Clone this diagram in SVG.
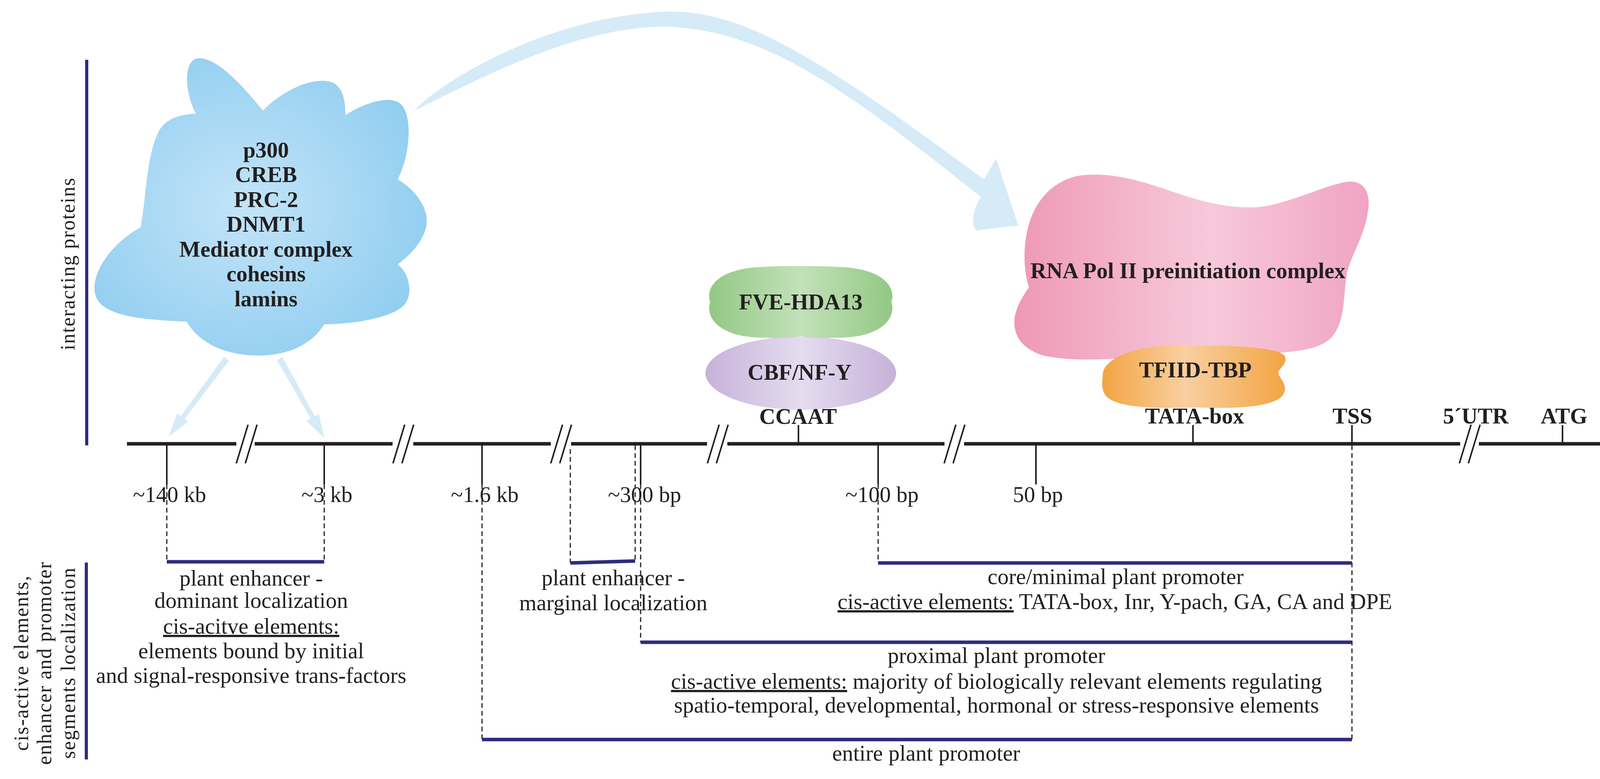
<svg xmlns="http://www.w3.org/2000/svg" width="4193" height="1994" viewBox="0 0 4193 1994">
<style>
text{font-family:'Liberation Serif','Times New Roman',serif;fill:#231f20}
.b{font-weight:bold;font-size:57px;text-anchor:middle}
.r{font-size:57px;text-anchor:middle}
.rot{font-size:52px;letter-spacing:2px;text-anchor:middle}
.main{stroke:#231f20;stroke-width:9;fill:none}
.tick{stroke:#231f20;stroke-width:4;fill:none}
.sl{stroke:#231f20;stroke-width:4;fill:none}
.dash{stroke:#231f20;stroke-width:3;stroke-dasharray:12 8;fill:none}
.seg{stroke:#2e2c7e;stroke-width:9;fill:none}
.vbar{stroke:#2e2c7e;stroke-width:8;fill:none}
.arr{fill:#d5ebf7}
</style>
<defs>
<radialGradient id="gCloud" cx="0.45" cy="0.5" r="0.6">
<stop offset="0" stop-color="#c3e4f8"/><stop offset="1" stop-color="#90cdf0"/>
</radialGradient>
<linearGradient id="gPink" x1="0" y1="0" x2="1" y2="0">
<stop offset="0" stop-color="#ef98b6"/><stop offset="0.55" stop-color="#f7c9da"/><stop offset="1" stop-color="#f0a4c2"/>
</linearGradient>
<linearGradient id="gGreen" x1="0" y1="0" x2="1" y2="0">
<stop offset="0" stop-color="#93c884"/><stop offset="0.5" stop-color="#c3e1b9"/><stop offset="1" stop-color="#93c884"/>
</linearGradient>
<linearGradient id="gViolet" x1="0" y1="0" x2="1" y2="0">
<stop offset="0" stop-color="#c6b2d9"/><stop offset="0.5" stop-color="#e5dcef"/><stop offset="1" stop-color="#c6b2d9"/>
</linearGradient>
<linearGradient id="gOrange" x1="0" y1="0" x2="1" y2="0">
<stop offset="0" stop-color="#f3a443"/><stop offset="0.45" stop-color="#f9d0a0"/><stop offset="1" stop-color="#f3a443"/>
</linearGradient>
</defs>

<g id="axis-labels">
<line class="vbar" x1="222" y1="153" x2="222" y2="1140"/>
<text class="rot" transform="translate(191,675) rotate(-90)">interacting proteins</text>
<line class="vbar" x1="221" y1="1440" x2="221" y2="1944"/>
<text class="rot" transform="translate(72,1697) rotate(-90)">cis-active elements,</text>
<text class="rot" transform="translate(131,1697) rotate(-90)">enhancer and promoter</text>
<text class="rot" transform="translate(192,1697) rotate(-90)">segments localization</text>
</g>

<g id="connectors">
<path class="arr" d="M1062,282 C1110,225 1380,45 1700,30 C1900,22 2100,150 2519,459 L2550,406 L2607,578 C2560,580 2520,588 2500,590 C2485,580 2490,530 2512,505 C2150,215 1950,75 1700,68 C1480,70 1250,190 1062,282 Z"/>
<polygon class="arr" points="586.4,922.8 472.6,1072.5 482.2,1079.6 432,1117 453.4,1058.2 463,1065.3 573.6,913.2"/>
<polygon class="arr" points="723,914.1 805.8,1065.8 816.3,1059.9 830,1121 784.9,1077.5 795.4,1071.6 709,921.9"/>
</g>

<g id="cloud">
<path fill="url(#gCloud)" d="M501,291 C470,230 470,150 509,149 C560,148 630,230 673,283 C720,235 790,200 840,208 C880,215 884,260 884,295 C930,265 990,245 1020,262 C1060,285 1050,400 1018,459 C1070,490 1100,540 1091,580 C1082,625 1040,660 1018,677 C1050,700 1060,760 1030,785 C995,815 900,830 830,830 C800,880 740,910 660,910 C580,910 510,880 478,823 C400,820 290,815 255,775 C215,730 270,630 360,582 C375,500 375,390 410,330 C430,300 470,292 501,291 Z"/>
<text class="b" x="681" y="403">p300</text>
<text class="b" x="681" y="466">CREB</text>
<text class="b" x="681" y="530">PRC-2</text>
<text class="b" x="681" y="593">DNMT1</text>
<text class="b" x="681" y="657">Mediator complex</text>
<text class="b" x="681" y="720">cohesins</text>
<text class="b" x="681" y="784">lamins</text>
</g>

<g id="cbf">
<ellipse cx="2050" cy="955" rx="244" ry="94" fill="url(#gViolet)"/>
<text class="b" x="2047" y="972">CBF/NF-Y</text>
</g>
<g id="fve">
<path fill="url(#gGreen)" d="M1818,773 C1805,735 1840,690 1940,684 C2000,680 2100,680 2160,684 C2260,690 2295,735 2282,773 C2295,812 2260,860 2160,864 C2110,866 2070,866 2050,860 C2030,866 1990,866 1940,864 C1840,860 1805,812 1818,773 Z"/>
<text class="b" x="2050" y="792">FVE-HDA13</text>
</g>

<g id="polii">
<path fill="url(#gPink)" d="M2634,735 C2622,700 2618,640 2630,590 C2645,520 2690,465 2760,450 C2830,440 2900,455 3000,490 C3080,518 3150,535 3223,530 C3300,522 3400,470 3452,465 C3490,462 3510,490 3502,540 C3495,600 3460,650 3448,700 C3438,760 3445,820 3410,862 C3380,895 3320,902 3223,905 L3000,905 C2900,915 2780,930 2680,912 C2620,898 2590,860 2598,810 C2605,775 2625,750 2634,735 Z"/>
<text class="b" x="3041" y="712">RNA Pol II preinitiation complex</text>
</g>
<g id="tfiid">
<path fill="url(#gOrange)" d="M2823,960 C2823,920 2900,885 3010,884 C3150,883 3270,888 3288,910 C3300,930 3272,945 3272,954 C3272,965 3300,985 3285,1010 C3265,1040 3180,1047 3062,1043 C2930,1048 2840,1040 2826,1005 C2818,985 2823,970 2823,960 Z"/>
<text class="b" x="3060" y="966">TFIID-TBP</text>
</g>

<g id="dna-line">
<path class="main" d="M325,1136 H605 M652,1136 H1005 M1058,1136 H1410 M1462,1136 H1810 M1862,1136 H2418 M2468,1136 H3738 M3786,1136 H4168"/>
<path class="sl" d="M635,1087 L605,1186 M658,1087 L628,1186 M1036,1087 L1006,1186 M1059,1087 L1029,1186 M1440,1087 L1410,1186 M1463,1087 L1433,1186 M1841,1087 L1811,1186 M1864,1087 L1834,1186 M2447,1087 L2417,1186 M2470,1087 L2440,1186 M3766,1087 L3736,1186 M3789,1087 L3759,1186"/>
<path class="tick" d="M427,1136 V1240 M830,1136 V1240 M1234,1136 V1240 M1640,1136 V1240 M2248,1136 V1240 M2652,1136 V1240 M2044,1088 V1136 M3054,1088 V1136 M3461,1088 V1140 M4000,1088 V1136"/>
</g>

<g id="position-labels">
<text class="r" x="434" y="1285">~140 kb</text>
<text class="r" x="837" y="1285">~3 kb</text>
<text class="r" x="1241" y="1285">~1.6 kb</text>
<text class="r" x="1650" y="1285">~300 bp</text>
<text class="r" x="2258" y="1285">~100 bp</text>
<text class="r" x="2657" y="1285">50 bp</text>
<text class="b" x="2043" y="1085">CCAAT</text>
<text class="b" x="3058" y="1084">TATA-box</text>
<text class="b" x="3462" y="1084">TSS</text>
<text class="b" x="3778" y="1084">5´UTR</text>
<text class="b" x="4004" y="1084">ATG</text>
</g>

<g id="segments">
<path class="dash" d="M427,1240 V1438 M830,1240 V1438 M1234,1240 V1893 M1640,1240 V1644 M2248,1240 V1441 M1460,1150 V1440 M1626,1140 V1436 M3461,1140 V1893"/>
<path class="seg" d="M427,1438 H830 M1460,1441 L1626,1436 M2248,1441 H3461 M1640,1644 H3461 M1234,1893 H3461"/>
</g>

<g id="enhancer-dominant">
<text class="r" x="643" y="1499">plant enhancer -</text>
<text class="r" x="643" y="1556">dominant localization</text>
<text class="r" x="643" y="1622"><tspan text-decoration="underline">cis-acitve elements:</tspan></text>
<text class="r" x="643" y="1685">elements bound by initial</text>
<text class="r" x="643" y="1748">and signal-responsive trans-factors</text>
</g>
<g id="enhancer-marginal">
<text class="r" x="1570" y="1498">plant enhancer -</text>
<text class="r" x="1570" y="1562">marginal localization</text>
</g>
<g id="core-promoter">
<text class="r" x="2856" y="1495">core/minimal plant promoter</text>
<text class="r" x="2854" y="1559"><tspan text-decoration="underline">cis-active elements:</tspan> TATA-box, Inr, Y-pach, GA, CA and DPE</text>
</g>
<g id="proximal-promoter">
<text class="r" x="2551" y="1697">proximal plant promoter</text>
<text class="r" x="2551" y="1763"><tspan text-decoration="underline">cis-active elements:</tspan> majority of biologically relevant elements regulating</text>
<text class="r" x="2551" y="1824">spatio-temporal, developmental, hormonal or stress-responsive elements</text>
</g>
<g id="entire-promoter">
<text class="r" x="2371" y="1947">entire plant promoter</text>
</g>
</svg>
